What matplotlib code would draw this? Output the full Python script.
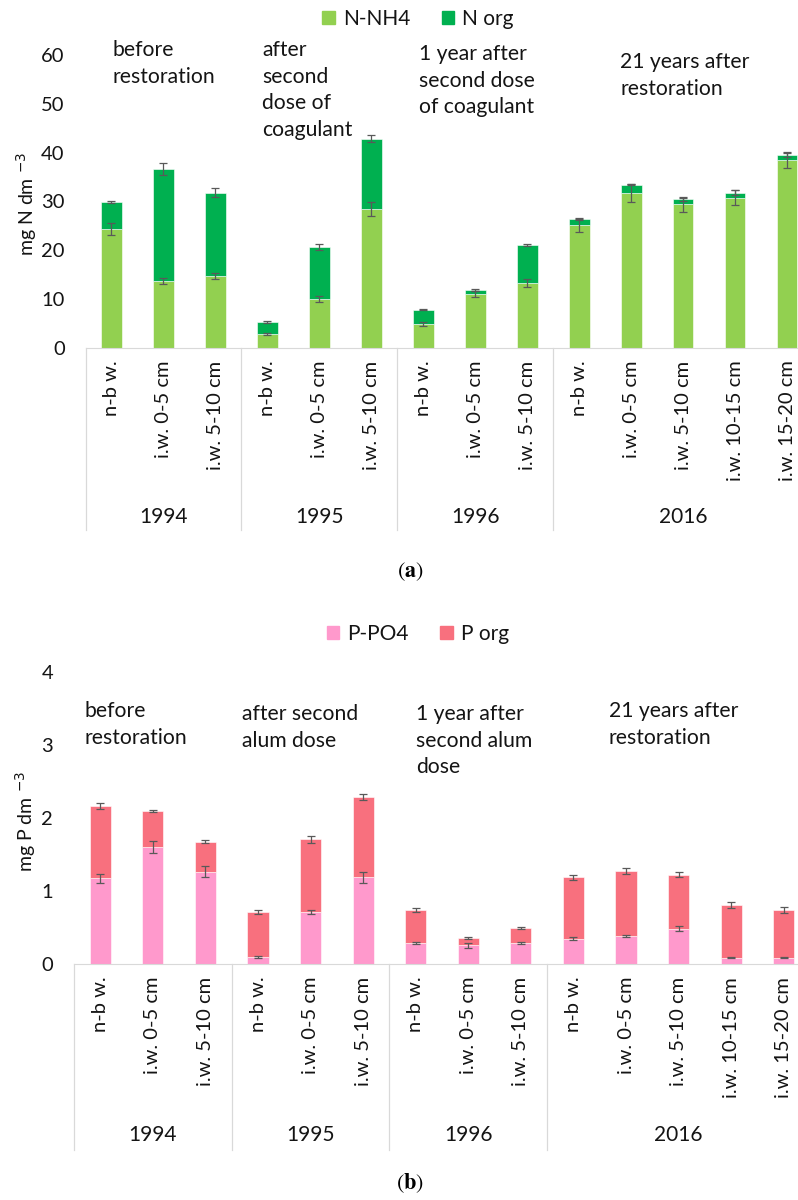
import numpy as np
import matplotlib
matplotlib.use("Agg")
import matplotlib.pyplot as plt
from matplotlib.patches import Patch
import matplotlib.transforms as mtransforms

plt.rcParams['font.family'] = ['Lato', 'DejaVu Sans']

# sample sites, grouped by sampling year
sites = ["n-b w.", "i.w. 0-5 cm", "i.w. 5-10 cm",
         "n-b w.", "i.w. 0-5 cm", "i.w. 5-10 cm",
         "n-b w.", "i.w. 0-5 cm", "i.w. 5-10 cm",
         "n-b w.", "i.w. 0-5 cm", "i.w. 5-10 cm", "i.w. 10-15 cm", "i.w. 15-20 cm"]
years = ["1994", "1995", "1996", "2016"]
group_sizes = [3, 3, 3, 5]

# nitrogen, mg N dm-3
n_nh4 = [24.4, 13.7, 14.7, 2.9, 10.0, 28.5, 5.0, 11.0, 13.3, 25.1, 31.7, 29.4, 30.8, 38.5]
n_org = [5.5, 23.0, 17.1, 2.5, 10.7, 14.4, 2.8, 0.8, 7.7, 1.3, 1.7, 1.1, 1.0, 1.1]
n_nh4_err = [1.2, 0.6, 0.6, 0.2, 0.6, 1.5, 0.4, 0.6, 0.8, 1.4, 1.8, 1.6, 1.6, 1.7]
n_tot_err = [0.3, 1.2, 0.9, 0.2, 0.6, 0.8, 0.1, 0.2, 0.2, 0.2, 0.1, 0.3, 0.5, 0.4]

# phosphorus, mg P dm-3
p_po4 = [1.18, 1.61, 1.27, 0.10, 0.72, 1.19, 0.29, 0.26, 0.29, 0.35, 0.39, 0.49, 0.09, 0.09]
p_org = [0.99, 0.49, 0.41, 0.62, 0.99, 1.10, 0.45, 0.10, 0.21, 0.84, 0.89, 0.74, 0.72, 0.65]
p_po4_err = [0.06, 0.08, 0.07, 0.01, 0.03, 0.07, 0.015, 0.03, 0.015, 0.02, 0.015, 0.03, 0.005, 0.005]
p_tot_err = [0.04, 0.02, 0.02, 0.03, 0.05, 0.04, 0.03, 0.01, 0.01, 0.04, 0.04, 0.03, 0.04, 0.04]

W, H = 798, 1200
TXT = '#141414'


def fx(px):
    return px / W


def fy(py):
    return 1 - py / H


def stacked_panel(ax, low, up, low_err, tot_err, c_low, c_up, yticks, sep_depth, year_y):
    x = np.arange(len(sites))
    low = np.array(low)
    up = np.array(up)
    ax.bar(x, low, width=0.4, color=c_low, edgecolor='white', linewidth=0.4)
    ax.bar(x, up, bottom=low, width=0.4, color=c_up, edgecolor='white', linewidth=0.4)
    ekw = dict(fmt='none', ecolor='#595959', elinewidth=0.9, capsize=3, capthick=0.9)
    ax.errorbar(x, low, yerr=low_err, **ekw)
    ax.errorbar(x, low + up, yerr=tot_err, **ekw)

    ax.set_xlim(-0.5, len(sites) - 0.5)
    ax.set_ylim(yticks[0], yticks[-1])
    ax.set_yticks(yticks)
    ax.set_xticks(x)
    ax.set_xticklabels(sites, rotation=90, color=TXT)
    ax.tick_params(axis='x', length=0, pad=9, labelsize=14.5)
    ax.tick_params(axis='y', length=0, pad=15, labelsize=14.5, labelcolor=TXT)
    for s in ['top', 'right', 'left']:
        ax.spines[s].set_visible(False)
    ax.spines['bottom'].set_color('#d9d9d9')

    # year separators and year labels under the site labels
    trans = mtransforms.blended_transform_factory(ax.transData, ax.transAxes)
    edges = np.concatenate([[0], np.cumsum(group_sizes)]) - 0.5
    for e in edges[:-1]:
        ax.plot([e, e], [0, -sep_depth], transform=trans, color='#d9d9d9',
                lw=0.9, clip_on=False)
    for yr, a, b in zip(years, edges[:-1], edges[1:]):
        ax.text((a + b) / 2, -year_y, yr, transform=trans, ha='center', va='center',
                fontsize=15, color=TXT, family=['Liberation Sans Narrow', 'Lato'])


fig = plt.figure(figsize=(W / 100, H / 100), dpi=100)

# (a) nitrogen
ax1 = fig.add_axes([fx(85.5), fy(348), fx(813 - 85.5), 293 / H])
stacked_panel(ax1, n_nh4, n_org, n_nh4_err, n_tot_err, '#92D050', '#00B050',
              [0, 10, 20, 30, 40, 50, 60], 182 / 293, 169 / 293)
fig.text(fx(27), fy(204), "mg N dm $^{-3}$", rotation=90, ha='center', va='center',
         fontsize=14, color=TXT)
fig.legend(handles=[Patch(color='#92D050', label='N-NH4'), Patch(color='#00B050', label='N org')],
           loc='center', bbox_to_anchor=(fx(418), fy(19)), ncol=2, frameon=False,
           fontsize=15, handlelength=0.6, handleheight=0.6, handletextpad=0.4,
           columnspacing=1.5, labelcolor=TXT)

notes_a = [(112, 40, "before\nrestoration"),
           (262, 40, "after\nsecond\ndose of\ncoagulant"),
           (419, 44, "1 year after\nsecond dose\nof coagulant"),
           (620, 52, "21 years after\nrestoration")]
for x, y, s in notes_a:
    fig.text(fx(x), fy(y), s, ha='left', va='top', fontsize=15.2, linespacing=1.42, color=TXT)

fig.text(fx(410), fy(572), r"$(\mathbf{a})$", ha='center', va='center', fontsize=16,
         math_fontfamily='stix', color='black')

# (b) phosphorus
ax2 = fig.add_axes([fx(74), fy(964.3), fx(810 - 74), 292 / H])
stacked_panel(ax2, p_po4, p_org, p_po4_err, p_tot_err, '#FF99CC', '#F8707E',
              [0, 1, 2, 3, 4], 186 / 292, 171 / 292)
fig.text(fx(26), fy(822), "mg P dm $^{-3}$", rotation=90, ha='center', va='center',
         fontsize=14, color=TXT)
fig.legend(handles=[Patch(color='#FF99CC', label='P-PO4'), Patch(color='#F8707E', label='P org')],
           loc='center', bbox_to_anchor=(fx(418), fy(634)), ncol=2, frameon=False,
           fontsize=15, handlelength=0.6, handleheight=0.6, handletextpad=0.4,
           columnspacing=1.5, labelcolor=TXT)

notes_b = [(85, 701, "before\nrestoration"),
           (242, 704, "after second\nalum dose"),
           (416, 704, "1 year after\nsecond alum\ndose"),
           (609, 701, "21 years after\nrestoration")]
for x, y, s in notes_b:
    fig.text(fx(x), fy(y), s, ha='left', va='top', fontsize=15.2, linespacing=1.42, color=TXT)

fig.text(fx(410), fy(1183), r"$(\mathbf{b})$", ha='center', va='center', fontsize=16,
         math_fontfamily='stix', color='black')

fig.savefig("out.png", dpi=100, facecolor='white')
